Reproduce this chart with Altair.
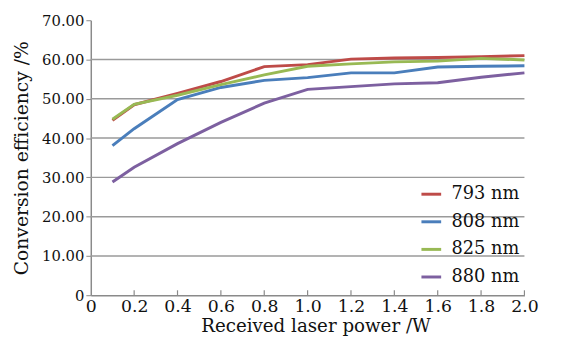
import altair as alt
import pandas as pd

power = [0.1, 0.2, 0.4, 0.6, 0.8, 1.0, 1.2, 1.4, 1.6, 1.8, 2.0]
eff_793 = [44.5, 48.5, 51.4, 54.4, 58.2, 58.7, 60.1, 60.4, 60.5, 60.7, 61.0]
eff_808 = [38.1, 42.4, 49.8, 52.9, 54.7, 55.4, 56.6, 56.6, 58.1, 58.3, 58.4]
eff_825 = [44.8, 48.6, 50.9, 53.6, 56.1, 58.3, 58.9, 59.4, 59.6, 60.3, 59.9]
eff_880 = [28.8, 32.6, 38.6, 44.0, 48.9, 52.4, 53.1, 53.8, 54.1, 55.5, 56.6]
series = ["793 nm", "808 nm", "825 nm", "880 nm"]
colors = ["#BE4B48", "#4A7EBB", "#98B954", "#7D60A0"]
x_ticks = [0, 0.2, 0.4, 0.6, 0.8, 1.0, 1.2, 1.4, 1.6, 1.8, 2.0]
y_ticks = [0, 10, 20, 30, 40, 50, 60, 70]
grid_vals = [10, 20, 30, 40, 50, 60]

rows = []
for name, vals in zip(series, [eff_793, eff_808, eff_825, eff_880]):
    for p, v in zip(power, vals):
        rows.append({"power": p, "eff": v, "series": name})
df = pd.DataFrame(rows)

FONT = "DejaVu Serif"
W, H = 440, 279

xscale = alt.Scale(domain=[0, 2.0], nice=False)
yscale = alt.Scale(domain=[0, 70], nice=False)

xaxis = alt.Axis(
    title="Received laser power /W",
    values=x_ticks,
    labelExpr="datum.value == 0 ? '0' : format(datum.value, '.1f')",
    grid=False,
    ticks=False,
    labelFlush=False,
    labelOverlap=False,
    domainColor="#8a8a8a",
    domainWidth=1.5,
    labelFont=FONT,
    labelFontSize=17.5,
    labelColor="#111111",
    labelPadding=3,
    titleFont=FONT,
    titleFontSize=18.5,
    titleFontWeight="normal",
    titleColor="#111111",
    titlePadding=1,
    titleX=228,
)
yaxis = alt.Axis(
    title="Conversion efficiency /%",
    values=y_ticks,
    labelExpr="datum.value == 0 ? '0' : format(datum.value, '.2f')",
    grid=False,
    labelFlush=False,
    labelOverlap=False,
    tickColor="#8a8a8a",
    tickSize=5,
    domainColor="#8a8a8a",
    domainWidth=1.5,
    labelFont=FONT,
    labelFontSize=15,
    labelColor="#111111",
    labelPadding=2,
    titleFont=FONT,
    titleFontSize=19,
    titleFontWeight="normal",
    titleColor="#111111",
    titlePadding=10,
)

lines = alt.Chart(df).mark_line(strokeWidth=3).encode(
    x=alt.X("power:Q", scale=xscale, axis=xaxis),
    y=alt.Y("eff:Q", scale=yscale, axis=yaxis),
    color=alt.Color(
        "series:N",
        scale=alt.Scale(domain=series, range=colors),
        legend=alt.Legend(
            title=None,
            orient="none",
            legendX=334,
            legendY=165,
            symbolType="stroke",
            symbolSize=400,
            symbolStrokeWidth=3,
            labelFont=FONT,
            labelFontSize=18,
            labelColor="#111111",
            rowPadding=7,
            labelOffset=9,
        ),
    ),
)

grid = alt.Chart(pd.DataFrame({"g": grid_vals})).mark_rule(
    color="#9a9a9a", strokeWidth=1.5
).encode(y=alt.Y("g:Q", scale=yscale, axis=yaxis))

xt = alt.Chart(pd.DataFrame({"t": x_ticks[1:]})).mark_rule(
    color="#8a8a8a", strokeWidth=1.2
).encode(
    x=alt.X("t:Q", scale=xscale, axis=xaxis),
    y=alt.value(H),
    y2=alt.value(H - 5),
)

chart = alt.layer(grid, xt, lines).properties(
    width=W,
    height=H,
    autosize=alt.AutoSizeParams(type="none"),
    padding={"left": 84, "top": 10, "right": 30, "bottom": 43},
).configure_view(stroke=None)

chart.save("out.html", embed_options={"renderer": "svg", "actions": False})
